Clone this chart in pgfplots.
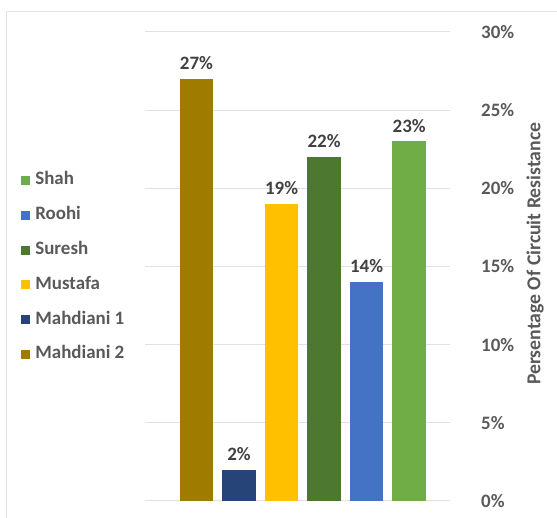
\documentclass[border=0pt]{standalone}
\usepackage{fontspec}
\setmainfont{Carlito}
\usepackage{pgfplots}
\pgfplotsset{compat=1.18}
\definecolor{cMtwo}{RGB}{159,123,0}
\definecolor{cMone}{RGB}{38,68,120}
\definecolor{cMus}{RGB}{255,192,0}
\definecolor{cSur}{RGB}{76,120,48}
\definecolor{cRoo}{RGB}{68,114,196}
\definecolor{cSha}{RGB}{112,173,71}
\definecolor{gridc}{RGB}{225,225,225}
\definecolor{tickc}{RGB}{89,89,89}
\definecolor{labc}{RGB}{64,64,64}
\newcommand{\chartfont}{\fontsize{19}{21}\selectfont\bfseries}
\begin{document}
\begin{tikzpicture}[x=1bp,y=1bp]
\path[use as bounding box] (0,0) rectangle (557,518);
\draw[gray!22, line width=1bp] (6,0) -- (6,506) -- (557,506);
\begin{axis}[
  at={(145bp,17bp)}, anchor=south west,
  scale only axis, width=305bp, height=469bp,
  xmin=-1.21, xmax=5.96, ymin=0, ymax=30,
  ytick={0,5,...,30}, xtick=\empty,
  axis line style={draw=none},
  ymajorgrids, grid style={color=gridc, line width=1bp},
  major tick length=0pt,
  yticklabel pos=right,
  yticklabel={\pgfmathparse{int(\tick)}\pgfmathresult\%},
  yticklabel style={anchor=west, inner sep=0pt, xshift=31bp, font=\chartfont, text=tickc},
  ylabel={Persentage Of Circuit Resistance},
  ylabel style={at={(axis description cs:1.279,0.527)}, anchor=center, font=\fontsize{19.8}{21}\selectfont\bfseries, text=tickc},
  /pgf/number format/assume math mode=true,
  nodes near coords={\pgfmathprintnumber{\pgfplotspointmeta}\%},
  every node near coord/.append style={font=\chartfont, text=labc, anchor=south, inner sep=0pt, yshift=9bp},
  reverse legend,
  legend style={at={(axis description cs:-0.406,0.702)}, anchor=north west, draw=none, fill=none, inner sep=0pt, row sep=17.8bp, column sep=5bp,
    font=\chartfont, text=tickc,
    nodes={inner sep=0pt, text height=13bp, text depth=4bp, anchor=west}},
  legend image code/.code={\fill[#1] (0bp,-4.5bp) rectangle (9bp,4.5bp);},
]
\addplot[ybar, bar shift=0pt, bar width=0.79, fill=cMtwo, draw=none] coordinates {(0,27)};
\addlegendentry{Mahdiani 2}
\addplot[ybar, bar shift=0pt, bar width=0.79, fill=cMone, draw=none] coordinates {(1,2)};
\addlegendentry{Mahdiani 1}
\addplot[ybar, bar shift=0pt, bar width=0.79, fill=cMus, draw=none] coordinates {(2,19)};
\addlegendentry{Mustafa}
\addplot[ybar, bar shift=0pt, bar width=0.79, fill=cSur, draw=none] coordinates {(3,22)};
\addlegendentry{Suresh}
\addplot[ybar, bar shift=0pt, bar width=0.79, fill=cRoo, draw=none] coordinates {(4,14)};
\addlegendentry{Roohi}
\addplot[ybar, bar shift=0pt, bar width=0.79, fill=cSha, draw=none] coordinates {(5,23)};
\addlegendentry{Shah}
\end{axis}
\end{tikzpicture}
\end{document}
